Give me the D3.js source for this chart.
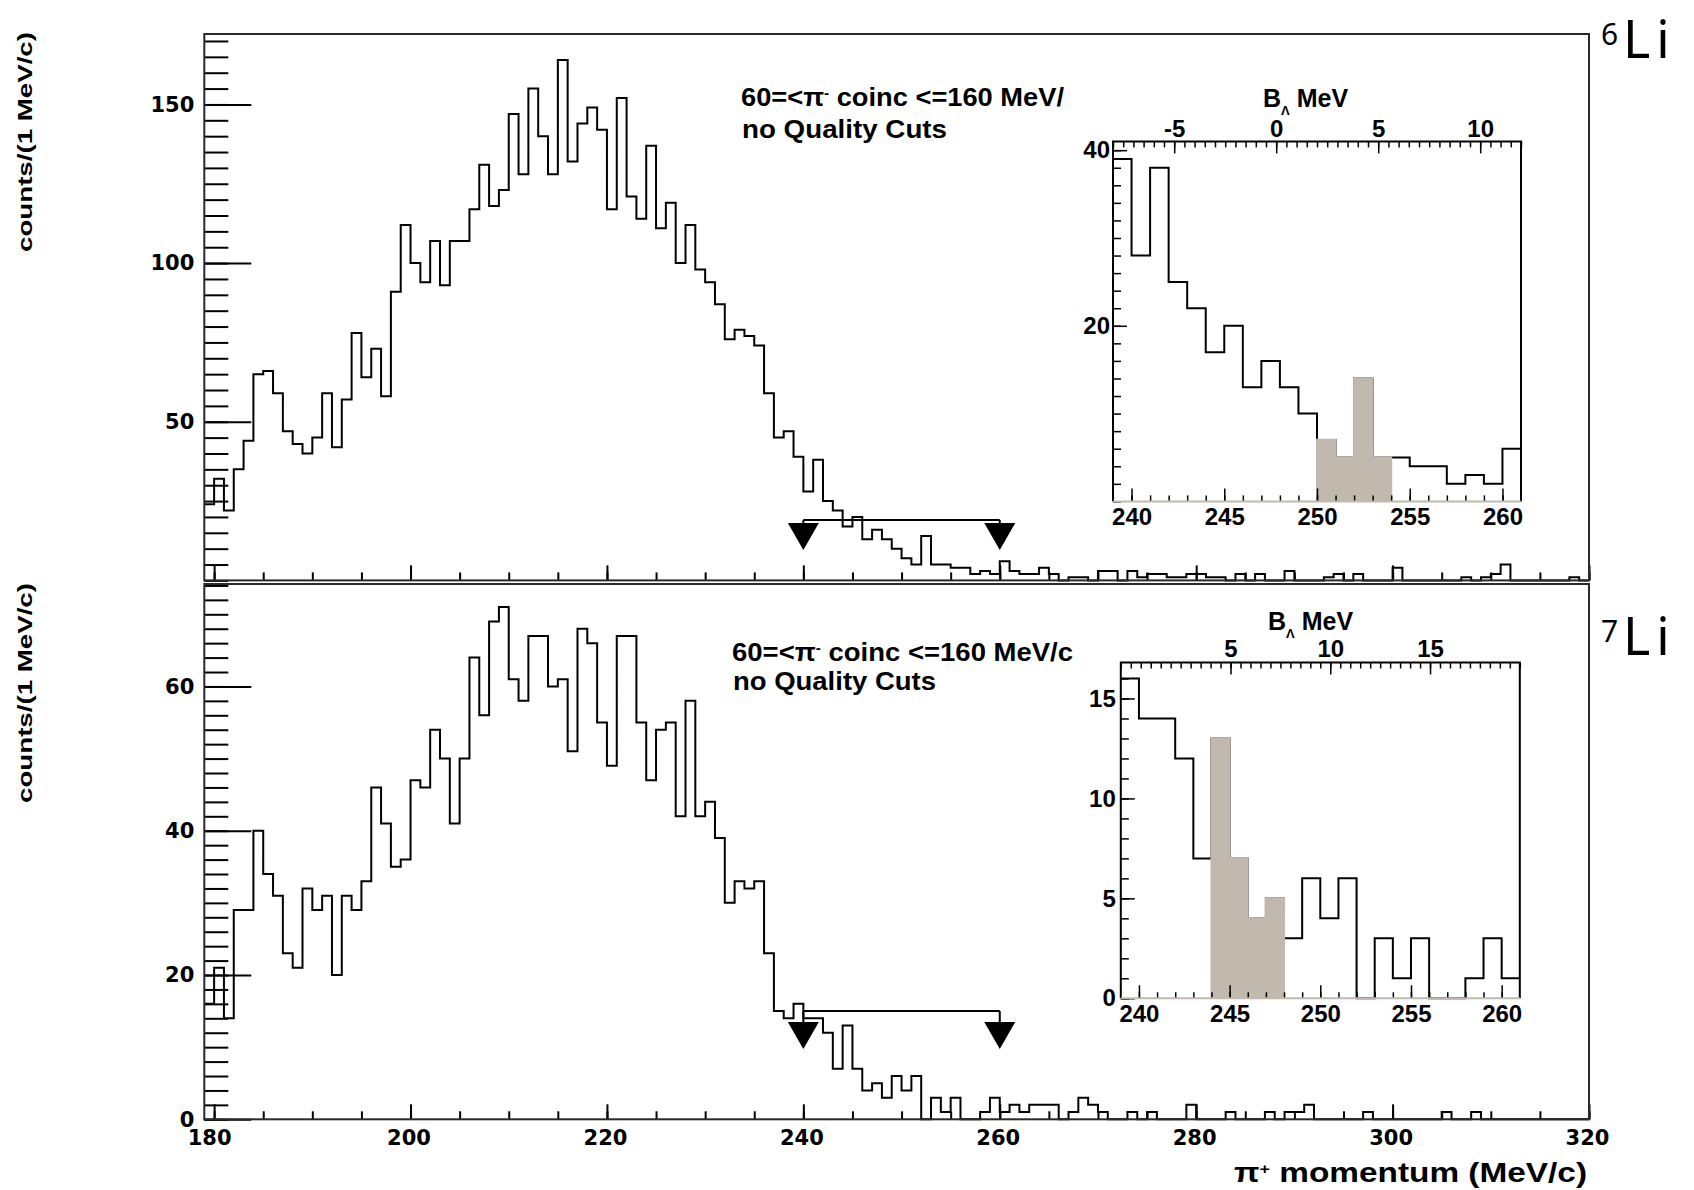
<!DOCTYPE html>
<html>
<head>
<meta charset="utf-8">
<script src="https://cdn.jsdelivr.net/npm/d3@7"></script>
<style>
  body { margin: 0; background: #fff; }
  svg { display: block; }
</style>
</head>
<body>
<script>
// ---- data: pi+ momentum spectra, 1 MeV/c bins, first bin starts at 179 MeV/c ----
const binStart = 179;

const counts6Li = [
  24, 32, 22, 35, 44, 65, 66, 59, 47, 43,      // 179-188
  40, 45, 59, 42, 57, 78, 64, 73, 58, 91,      // 189-198
  112, 100, 94, 107, 93, 107, 107, 117, 131, 118, // 199-208
  123, 147, 128, 155, 140, 128, 164, 132, 144, 149, // 209-218
  142, 117, 152, 121, 114, 137, 111, 119, 100, 112, // 219-228
  98, 94, 87, 76, 79, 77, 74, 59, 45, 47,      // 229-238
  39, 28, 38, 25, 22, 17, 20, 13, 16, 13,      // 239-248
  10, 7, 5, 14, 5, 5, 4, 4, 2, 3,              // 249-258
  2, 6, 3, 2, 2, 4, 2, 0, 1, 1,                // 259-268
  0, 3, 3, 0, 3, 1, 2, 2, 1, 1,                // 269-278
  2, 2, 1, 1, 0, 2, 0, 2, 0, 0,                // 279-288
  3, 0, 0, 0, 1, 2, 0, 2, 0, 0,                // 289-298
  0, 4, 0, 0, 0, 0, 0, 0, 1, 0,                // 299-308
  1, 2, 5, 0, 0, 0, 0, 0, 0, 1,                // 309-318
  0                                            // 319
];

const counts7Li = [
  16, 21, 14, 29, 29, 40, 34, 31, 23, 21,      // 179-188
  32, 29, 31, 20, 31, 29, 33, 46, 41, 35,      // 189-198
  36, 47, 46, 54, 50, 41, 50, 64, 56, 69,      // 199-208
  71, 61, 58, 67, 67, 60, 61, 51, 68, 66,      // 209-218
  55, 49, 67, 67, 55, 47, 54, 55, 42, 58,      // 219-228
  42, 44, 39, 30, 33, 32, 33, 23, 15, 14,      // 229-238
  16, 14, 14, 12, 7, 13, 7, 4, 5, 3,           // 239-248
  6, 4, 6, 0, 3, 1, 3, 0, 0, 1,                // 249-258
  3, 1, 2, 1, 2, 2, 2, 0, 1, 3,                // 259-268
  2, 1, 0, 0, 1, 0, 1, 0, 0, 0,                // 269-278
  2, 0, 0, 0, 1, 0, 0, 0, 1, 0,                // 279-288
  1, 1, 2, 0, 0, 0, 0, 0, 1, 0,                // 289-298
  0, 0, 0, 0, 0, 0, 1, 0, 0, 1,                // 299-308
  0, 0, 0, 0, 0, 0, 0, 0, 0, 0,                // 309-318
  0                                            // 319
];

// zoomed region shown in the insets and the highlighted signal bins
const insetRange = [239, 261];
const signal6Li = [250, 254];
const signal7Li = [244, 248];

// bracket marking the 240-260 MeV/c window (level in counts)
const windowEdges = [240, 260];
const windowLevel6Li = 19;
const windowLevel7Li = 15;

// tick labels
const xTickLabels = [180, 200, 220, 240, 260, 280, 300, 320];
const yTickLabels6Li = [50, 100, 150];
const yTickLabels7Li = [0, 20, 40, 60];
const insetXLabels = [240, 245, 250, 255, 260];
const insetYLabels6Li = [20, 40];
const insetYLabels7Li = [0, 5, 10, 15];
const bLabels6Li = [-5, 0, 5, 10];
const bLabels7Li = [5, 10, 15];

// ---- drawing ----
const svg = d3.select("body").append("svg")
  .attr("width", 1694).attr("height", 1190)
  .attr("font-family", "'Liberation Sans', Arial, sans-serif");

const FRAME = "#2a2a2a";
const SHADE = "#c2b9ae";
const tickFont = "'DejaVu Sans', sans-serif";
const plainNum = d => String(d);

const x = d3.scaleLinear().domain([179, 320]).range([204.3, 1589]);

function histPoints(counts, start) {
  const pts = counts.map((c, i) => [start + i, c]);
  pts.push([start + counts.length, counts[counts.length - 1]]);
  return pts;
}

function stripDomain(g) { g.select(".domain").remove(); }

function drawPanel(cfg) {
  const y = d3.scaleLinear().domain(cfg.yDomain).range(cfg.yRange);
  const g = svg.append("g");
  const [y0, y1] = cfg.yRange;

  // histogram
  const line = d3.line().x(d => x(d[0])).y(d => y(d[1])).curve(d3.curveStepAfter);
  g.append("path")
    .attr("d", line(histPoints(cfg.counts, binStart)))
    .attr("fill", "none").attr("stroke", "#000").attr("stroke-width", 2);

  // x ticks (inside, pointing up)
  g.append("g").attr("transform", `translate(0,${y0})`)
    .call(d3.axisTop(x).tickValues(d3.range(180, 321, 5)).tickSize(8).tickFormat(""))
    .call(stripDomain);
  g.append("g").attr("transform", `translate(0,${y0})`)
    .call(d3.axisTop(x).tickValues(xTickLabels).tickSize(15).tickFormat(""))
    .call(stripDomain);

  // y ticks (inside, pointing right)
  g.append("g").attr("transform", `translate(${x.range()[0]},0)`)
    .call(d3.axisRight(y).tickValues(cfg.minorTicks).tickSize(24).tickFormat(""))
    .call(stripDomain);
  g.append("g").attr("transform", `translate(${x.range()[0]},0)`)
    .call(d3.axisRight(y).tickValues(cfg.yLabels).tickSize(47).tickFormat(""))
    .call(stripDomain);
  g.selectAll(".tick line").attr("stroke", "#000").attr("stroke-width", 2);

  // y tick labels
  const yl = g.append("g").attr("transform", `translate(${x.range()[0]},0)`)
    .call(d3.axisLeft(y).tickValues(cfg.yLabels).tickSize(0).tickPadding(10).tickFormat(plainNum))
    .call(stripDomain);
  yl.selectAll("text").attr("font-family", tickFont).attr("font-weight", "bold")
    .attr("font-size", 21).attr("fill", "#000");

  // x tick labels
  if (cfg.showXLabels) {
    const xl = g.append("g").attr("transform", `translate(0,${y0})`)
      .call(d3.axisBottom(x).tickValues(xTickLabels).tickSize(0).tickPadding(11).tickFormat(plainNum))
      .call(stripDomain);
    xl.selectAll("text").attr("font-family", tickFont).attr("font-weight", "bold")
      .attr("font-size", 21).attr("fill", "#000")
      .attr("dx", d => d === 180 ? -5 : -2);
  }

  // frame
  g.append("rect")
    .attr("x", x.range()[0]).attr("y", y1)
    .attr("width", x.range()[1] - x.range()[0]).attr("height", y0 - y1)
    .attr("fill", "none").attr("stroke", FRAME).attr("stroke-width", 2);

  // bracket with arrow markers over the 240-260 window
  const ly = y(cfg.windowLevel);
  g.append("line")
    .attr("x1", x(windowEdges[0])).attr("x2", x(windowEdges[1]))
    .attr("y1", ly).attr("y2", ly)
    .attr("stroke", "#000").attr("stroke-width", 2);
  windowEdges.forEach(e => {
    const cx = x(e), top = ly + cfg.arrowGap;
    g.append("line").attr("x1", cx).attr("x2", cx).attr("y1", ly).attr("y2", top)
      .attr("stroke", "#000").attr("stroke-width", 2);
    g.append("path")
      .attr("d", `M${cx - 15.5},${top}L${cx + 15.5},${top}L${cx},${top + 27}Z`)
      .attr("fill", "#000");
  });

  // cut annotation
  const t = g.append("text").attr("x", cfg.note.x).attr("y", cfg.note.y1)
    .attr("font-size", 25).attr("font-weight", "bold")
    .attr("textLength", cfg.note.len1).attr("lengthAdjust", "spacingAndGlyphs");
  t.append("tspan").text("60=<π");
  t.append("tspan").attr("baseline-shift", "super").attr("font-size", 14).text("-");
  t.append("tspan").text(cfg.note.tail);
  g.append("text").attr("x", cfg.note.x + 1).attr("y", cfg.note.y2)
    .attr("font-size", 25).attr("font-weight", "bold")
    .attr("textLength", cfg.note.len2).attr("lengthAdjust", "spacingAndGlyphs")
    .text("no Quality Cuts");

  // axis title
  g.append("text")
    .attr("transform", `translate(32,${cfg.titleEnd}) rotate(-90)`)
    .attr("text-anchor", "end").attr("font-size", 20).attr("font-weight", "bold")
    .attr("textLength", 220).attr("lengthAdjust", "spacingAndGlyphs")
    .text("counts/(1 MeV/c)");

  // nucleus label: mass number and element symbol
  g.append("text").attr("x", 1601).attr("y", cfg.nucleus.y - 13)
    .attr("font-family", "'Noto Sans', sans-serif").attr("font-size", 30)
    .text(cfg.nucleus.a);
  g.append("text").attr("x", 1623).attr("y", cfg.nucleus.y)
    .attr("font-family", "'Noto Sans', sans-serif").attr("font-size", 52)
    .attr("letter-spacing", 6)
    .text(cfg.nucleus.sym);

  drawInset(cfg.inset, cfg.counts, cfg.signal);
}

function drawInset(ic, counts, signal) {
  const xi = d3.scaleLinear().domain(insetRange).range([ic.left, ic.right]);
  const yi = d3.scaleLinear().domain(ic.yDomain).range([ic.bottom, ic.top]);
  const bi = d3.scaleLinear().domain(ic.bDomain).range([ic.left, ic.right]);
  const g = svg.append("g");

  g.append("rect").attr("x", ic.left).attr("y", ic.top)
    .attr("width", ic.right - ic.left).attr("height", ic.bottom - ic.top)
    .attr("fill", "#fff");

  const sub = counts.slice(insetRange[0] - binStart, insetRange[1] - binStart);
  const line = d3.line().x(d => xi(d[0])).y(d => yi(d[1])).curve(d3.curveStepAfter);
  g.append("path").attr("d", line(histPoints(sub, insetRange[0])))
    .attr("fill", "none").attr("stroke", "#000").attr("stroke-width", 2);

  // shaded signal bins
  const sig = d3.range(signal[0], signal[1]).map(b => ({ b, v: counts[b - binStart] }));
  g.selectAll("rect.sig").data(sig).join("rect").attr("class", "sig")
    .attr("x", d => xi(d.b) - 1).attr("width", d => xi(d.b + 1) - xi(d.b) + 2)
    .attr("y", d => yi(d.v) - 1.2).attr("height", d => yi(0) - yi(d.v) + 1.2)
    .attr("fill", SHADE);

  // bottom axis (momentum)
  g.append("g").attr("transform", `translate(0,${ic.bottom})`)
    .call(d3.axisTop(xi).tickValues(d3.range(240, 261, 1)).tickSize(6).tickFormat(""))
    .call(stripDomain);
  g.append("g").attr("transform", `translate(0,${ic.bottom})`)
    .call(d3.axisTop(xi).tickValues(insetXLabels).tickSize(13).tickFormat(""))
    .call(stripDomain);
  const xl = g.append("g").attr("transform", `translate(0,${ic.bottom})`)
    .call(d3.axisBottom(xi).tickValues(insetXLabels).tickSize(0).tickPadding(7).tickFormat(plainNum))
    .call(stripDomain);

  // left axis (counts)
  g.append("g").attr("transform", `translate(${ic.left},0)`)
    .call(d3.axisRight(yi).tickValues(ic.yMinor).tickSize(8).tickFormat(""))
    .call(stripDomain);
  g.append("g").attr("transform", `translate(${ic.left},0)`)
    .call(d3.axisRight(yi).tickValues(ic.yLabels).tickSize(14).tickFormat(""))
    .call(stripDomain);
  const yl = g.append("g").attr("transform", `translate(${ic.left},0)`)
    .call(d3.axisLeft(yi).tickValues(ic.yLabels).tickSize(0).tickPadding(ic.yPad).tickFormat(plainNum))
    .call(stripDomain);

  // top axis (binding energy)
  g.append("g").attr("transform", `translate(0,${ic.top})`)
    .call(d3.axisBottom(bi).tickValues(d3.range(ic.bDomain[0], ic.bDomain[1] + 0.01, 0.5)).tickSize(6).tickFormat(""))
    .call(stripDomain);
  g.append("g").attr("transform", `translate(0,${ic.top})`)
    .call(d3.axisBottom(bi).tickValues(ic.bLabels).tickSize(12).tickFormat(""))
    .call(stripDomain);
  const bl = g.append("g").attr("transform", `translate(0,${ic.top})`)
    .call(d3.axisTop(bi).tickValues(ic.bLabels).tickSize(0).tickPadding(ic.bPad).tickFormat(plainNum))
    .call(stripDomain);

  g.selectAll(".tick line").attr("stroke", "#000").attr("stroke-width", 1.5);
  [xl, yl, bl].forEach(a => a.selectAll("text")
    .attr("font-family", "'Liberation Sans', Arial, sans-serif")
    .attr("font-weight", "bold").attr("font-size", 24).attr("fill", "#000"));

  // frame: bottom edge in the shading colour
  g.append("path")
    .attr("d", `M${ic.left},${ic.bottom}V${ic.top}H${ic.right}V${ic.bottom}`)
    .attr("fill", "none").attr("stroke", "#000").attr("stroke-width", 2);
  g.append("line").attr("x1", ic.left).attr("x2", ic.right)
    .attr("y1", ic.bottom).attr("y2", ic.bottom)
    .attr("stroke", SHADE).attr("stroke-width", 2);

  // B_Lambda title
  const t = g.append("text").attr("x", ic.titleX).attr("y", ic.titleY)
    .attr("font-size", 25).attr("font-weight", "bold");
  t.append("tspan").text("B");
  t.append("tspan").attr("baseline-shift", "sub").attr("font-size", 13).text("Λ");
  t.append("tspan").text(" MeV");
}

drawPanel({
  counts: counts6Li, signal: signal6Li,
  yDomain: [0, 172.2], yRange: [580.4, 34],
  minorTicks: d3.range(0, 171, 5), yLabels: yTickLabels6Li,
  showXLabels: false,
  windowLevel: windowLevel6Li, arrowGap: 3,
  note: { x: 741, y1: 106, y2: 138, len1: 323, len2: 205, tail: " coinc <=160 MeV/" },
  titleEnd: 32,
  nucleus: { a: "6", sym: "Li", y: 58 },
  inset: {
    left: 1113, right: 1521, top: 141.4, bottom: 501.4,
    yDomain: [0, 41], yMinor: d3.range(0, 41, 2), yLabels: insetYLabels6Li, yPad: 3,
    bDomain: [-8, 12], bLabels: bLabels6Li, bPad: 4,
    titleX: 1263, titleY: 107
  }
});

drawPanel({
  counts: counts7Li, signal: signal7Li,
  yDomain: [0, 74.2], yRange: [1119.3, 584],
  minorTicks: d3.range(0, 75, 2), yLabels: yTickLabels7Li,
  showXLabels: true,
  windowLevel: windowLevel7Li, arrowGap: 11,
  note: { x: 732, y1: 661, y2: 690, len1: 341, len2: 203, tail: " coinc <=160 MeV/c" },
  titleEnd: 583,
  nucleus: { a: "7", sym: "Li", y: 655 },
  inset: {
    left: 1120.8, right: 1519.8, top: 662.5, bottom: 998.3,
    yDomain: [0, 16.8], yMinor: d3.range(0, 17, 1), yLabels: insetYLabels7Li, yPad: 5,
    bDomain: [-0.5, 19.5], bLabels: bLabels7Li, bPad: 6,
    titleX: 1268, titleY: 630
  }
});

// momentum axis title
const xt = svg.append("text").attr("x", 1234).attr("y", 1182)
  .attr("font-size", 28).attr("font-weight", "bold")
  .attr("textLength", 353).attr("lengthAdjust", "spacingAndGlyphs");
xt.append("tspan").text("π");
xt.append("tspan").attr("baseline-shift", "super").attr("font-size", 15).text("+");
xt.append("tspan").text(" momentum (MeV/c)");
</script>
</body>
</html>
